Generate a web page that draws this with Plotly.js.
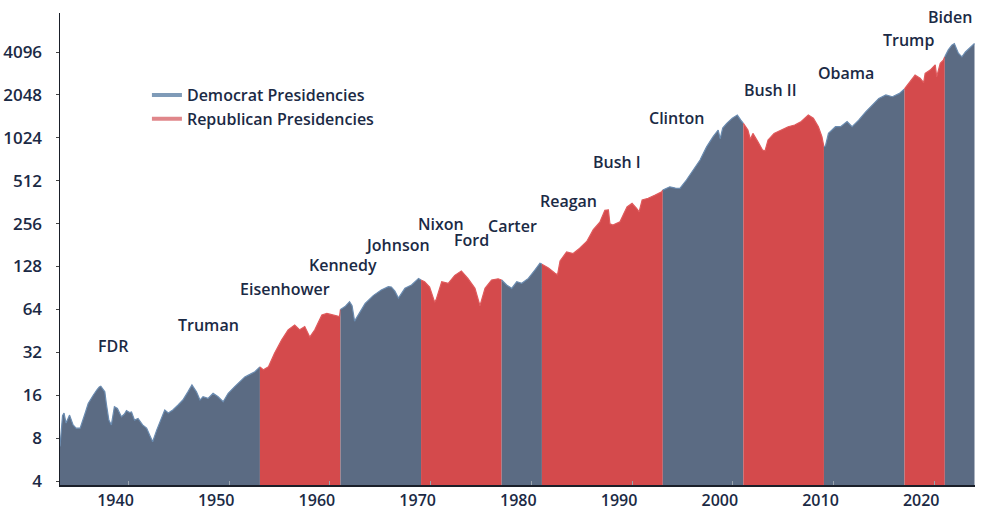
<!DOCTYPE html>
<html>
<head>
<meta charset="utf-8">
<script src="https://cdn.plot.ly/plotly-3.0.1.min.js"></script>
<style>
  html, body { margin: 0; padding: 0; background: #ffffff; }
  #chart { width: 982px; height: 510px; }
</style>
</head>
<body>
<div id="chart"></div>
<script>
// ---- Data (decimal year, index level) ----
const years = [
  1933.20,1933.30,1933.45,1933.60,1933.80,1934.00,1934.15,1934.50,1934.80,1935.20,
  1935.50,1935.75,1936.00,1936.30,1936.50,1936.85,1937.10,1937.25,1937.50,1937.65,
  1937.80,1938.05,1938.30,1938.60,1938.90,1939.30,1939.60,1939.80,1940.10,1940.30,
  1940.60,1940.95,1941.40,1941.80,1942.10,1942.40,1942.80,1943.30,1943.60,1943.95,
  1944.40,1944.90,1945.40,1945.90,1946.30,1946.75,1947.10,1947.40,1947.90,1948.40,
  1948.90,1949.40,1949.90,1950.55,1951.05,1951.55,1952.05,1952.55,1953.05,1953.40,
  1953.90,1954.50,1955.20,1955.85,1956.50,1957.00,1957.50,1958.00,1958.50,1959.20,
  1959.70,1960.30,1960.80,1960.95,1961.05,1961.50,1961.95,1962.20,1962.45,1962.80,
  1963.50,1964.30,1965.10,1965.80,1966.10,1966.45,1966.80,1967.45,1968.10,1968.80,
  1969.05,1969.40,1969.90,1970.40,1970.55,1971.10,1971.75,1972.40,1973.05,1973.70,
  1974.40,1974.90,1975.40,1976.05,1976.70,1977.05,1977.55,1978.05,1978.55,1979.05,
  1979.70,1980.35,1980.85,1981.05,1981.70,1982.35,1982.60,1982.85,1983.50,1984.15,
  1984.80,1985.50,1986.15,1986.80,1987.30,1987.65,1987.80,1988.10,1988.80,1989.50,
  1990.00,1990.45,1990.70,1991.00,1991.60,1992.30,1992.95,1993.05,1993.75,1994.30,
  1994.75,1995.40,1996.10,1996.75,1997.40,1998.05,1998.55,1998.75,1999.00,1999.40,
  1999.95,2000.45,2000.80,2001.05,2001.50,2001.75,2002.00,2002.50,2002.95,2003.20,
  2003.50,2004.10,2004.85,2005.50,2006.15,2006.80,2007.50,2008.00,2008.50,2008.85,
  2009.05,2009.20,2009.50,2010.20,2010.70,2011.35,2011.85,2012.50,2013.20,2013.85,
  2014.50,2015.20,2015.85,2016.55,2016.90,2017.05,2017.60,2018.10,2018.60,2018.95,
  2019.10,2019.60,2020.10,2020.25,2020.60,2020.90,2021.05,2021.40,2021.75,2022.00,
  2022.40,2022.75,2023.10,2023.45,2023.80,2024.00
];
const values = [
  7.0,8.9,11.5,12.0,10.2,11.0,11.6,9.9,9.4,9.4,
  10.7,12.3,14.0,15.0,16.0,17.4,18.3,18.5,17.5,16.9,
  14.0,10.7,9.9,13.3,12.9,11.3,11.8,12.5,12.1,12.2,
  10.7,11.0,9.9,9.4,8.4,7.55,9.1,11.3,12.6,12.0,
  12.6,13.6,14.8,16.9,18.9,16.9,14.8,15.6,15.2,16.5,
  15.6,14.4,16.5,18.4,19.9,21.5,22.4,23.4,25.3,24.1,
  25.3,31.5,39,46,49.8,46,48.5,41,46,58.5,
  60,58.5,57,57,64,67,72.5,68,53,58,
  70.5,80,87.5,92.4,92,86,77,90,95,105.6,
  103,100,92,72,75,100,97.6,111,119,105.6,
  90,68,90,103,105,103,95,90,100,97.6,
  105.6,121,135,133,125,115,112,140,162,158,
  172,192,232,262,318,320,255,250,264,335,
  355,328,310,375,386,406,429,440,464,455,
  452,518,610,715,885,1045,1160,1010,1200,1295,
  1408,1480,1362,1295,1160,1000,1100,960,842,830,
  990,1100,1160,1226,1260,1332,1480,1408,1226,1045,
  885,900,1100,1226,1226,1332,1226,1362,1560,1735,
  1935,2048,1990,2100,2210,2260,2560,2820,2680,2500,
  2900,3060,3330,2750,3420,3590,3790,4240,4580,4700,
  4020,3790,4100,4330,4580,4700
];

// Party terms (start, end, party)
const termStarts = [1933.20, 1953.05, 1961.05, 1969.05, 1977.05, 1981.05, 1993.05, 2001.05, 2009.05, 2017.05, 2021.05];
const termEnds   = [1953.05, 1961.05, 1969.05, 1977.05, 1981.05, 1993.05, 2001.05, 2009.05, 2017.05, 2021.05, 2024.00];
const termParty  = ["D","R","D","R","D","R","D","R","D","R","D"];

// President labels
const presNames = ["FDR","Truman","Eisenhower","Kennedy","Johnson","Nixon","Ford","Carter","Reagan","Bush I","Clinton","Bush II","Obama","Trump","Biden"];
const labelYears = [1938.55,1947.9,1955.53,1961.29,1966.75,1971.02,1974.1,1978.17,1983.73,1988.5,1994.46,2003.7,2011.24,2017.45,2021.57];
const labelLevels = [35.4,49.7,89,131,181,254,196,246,369,693,1408,2210,2916,4970,7210];

const yTicks = [4,8,16,32,64,128,256,512,1024,2048,4096];
const xTicks = [1940,1950,1960,1970,1980,1990,2000,2010,2020];

// ---- Styles ----
const demFill = "#5b6b83", demEdge = "#6a8bb0", demLegend = "#7f9bb8";
const repFill = "#d44a4c", repEdge = "#df5a5c", repLegend = "#e0868a";
const txt = "#1b2a45";
const FONT = "Open Sans";

const traces = [];
for (let i = 0; i < termStarts.length; i++) {
  const xs = [], ys = [];
  for (let k = 0; k < years.length; k++) {
    if (years[k] >= termStarts[i] - 1e-9 && years[k] <= termEnds[i] + 1e-9) {
      xs.push(years[k]); ys.push(values[k]);
    }
  }
  const dem = termParty[i] === "D";
  traces.push({
    type: "scatter", mode: "lines", x: xs, y: ys,
    fill: "tozeroy",
    fillcolor: dem ? demFill : repFill,
    line: {color: dem ? demEdge : repEdge, width: 1.2},
    showlegend: false, hoverinfo: "skip"
  });
}
traces.push({type:"scatter", mode:"lines", x:[null], y:[null], name:"Democrat Presidencies",
  line:{color: demLegend, width: 4}, showlegend: true});
traces.push({type:"scatter", mode:"lines", x:[null], y:[null], name:"Republican Presidencies",
  line:{color: repLegend, width: 4}, showlegend: true});

const annotations = presNames.map((n, i) => ({
  x: labelYears[i], y: Math.log10(labelLevels[i]), xref: "x", yref: "y",
  text: n, showarrow: false, xanchor: "center", yanchor: "middle",
  font: {family: FONT, size: 16, color: txt, weight: 600}
}));

const layout = {
  width: 982, height: 510,
  margin: {l: 60, r: 7, t: 13, b: 25},
  paper_bgcolor: "#ffffff", plot_bgcolor: "#ffffff",
  font: {family: FONT, size: 16, color: txt, weight: 600},
  showlegend: true,
  legend: {
    x: 0.095, y: 0.862, xanchor: "left", yanchor: "top",
    bgcolor: "rgba(0,0,0,0)", traceorder: "normal",
    font: {family: FONT, size: 16, color: txt, weight: 600},
    itemwidth: 30, tracegroupgap: 0
  },
  xaxis: {
    range: [1933.2, 2024.05],
    tickvals: xTicks, ticktext: xTicks.map(String),
    ticks: "inside", ticklen: 4, tickcolor: "#9aa3ad", tickwidth: 1,
    ticklabelshift: -13,
    showgrid: false, zeroline: false,
    showline: true, linecolor: "#1a1f29", linewidth: 1.5,
    tickfont: {family: FONT, size: 16, color: txt, weight: 600},
    layer: "above traces"
  },
  yaxis: {
    type: "log",
    range: [Math.log10(4) - 0.028, Math.log10(4096) + 0.274],
    tickvals: yTicks, ticktext: yTicks.map(String),
    ticks: "outside", ticklen: 3, tickcolor: "#444", tickwidth: 1,
    ticklabelstandoff: 10,
    showgrid: false, zeroline: false,
    showline: true, linecolor: "#1a1f29", linewidth: 1.5,
    tickfont: {family: FONT, size: 17, color: txt, weight: 600},
    layer: "above traces"
  },
  annotations: annotations
};

Plotly.newPlot("chart", traces, layout, {displayModeBar: false, staticPlot: true});
</script>
</body>
</html>
